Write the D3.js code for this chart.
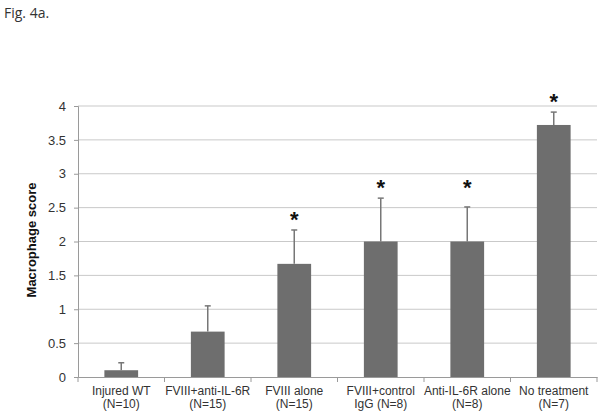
<!DOCTYPE html>
<html><head><meta charset="utf-8">
<script src="https://cdn.jsdelivr.net/npm/d3@7"></script>
<style>body{margin:0;background:#fff}</style>
</head><body>
<svg id="c" width="603" height="416"></svg>
<script>
const categories = [["Injured WT","(N=10)"],["FVIII+anti-IL-6R","(N=15)"],["FVIII alone","(N=15)"],["FVIII+control","IgG (N=8)"],["Anti-IL-6R alone","(N=8)"],["No treatment","(N=7)"]];
const values = [0.1, 0.67, 1.67, 2.0, 2.0, 3.72];
const errors = [0.11, 0.38, 0.5, 0.64, 0.51, 0.19];
const significant = [false, false, true, true, true, true];
const starLevels = [null, null, 2.39, 2.86, 2.86, 4.13];
const yTicks = [0,0.5,1,1.5,2,2.5,3,3.5,4];

(function(){
const svg = d3.select("#c");
const mLeft = 78, mRight = 597, mTop = 106, mBottom = 377;
const x = d3.scaleBand().domain(d3.range(categories.length)).range([mLeft,mRight]).padding(0);
const y = d3.scaleLinear().domain([0,4]).range([mBottom,mTop]);
const font = "'Liberation Sans', Arial, sans-serif";

svg.append("text").attr("x",4).attr("y",18).text("Fig. 4a.")
  .attr("font-family","'Open Sans', 'Liberation Sans', sans-serif").attr("font-size",14).attr("fill","#333");

// gridlines
svg.append("g").selectAll("line").data(yTicks.filter(d=>d>0)).join("line")
  .attr("x1",mLeft).attr("x2",mRight).attr("y1",d=>y(d)).attr("y2",d=>y(d))
  .attr("stroke","#c9c9c9").attr("stroke-width",1);

// y axis
const ya = svg.append("g").attr("transform",`translate(${mLeft},0)`)
  .call(d3.axisLeft(y).tickValues(yTicks).tickSize(4).tickPadding(8).tickFormat(d=>d));
ya.select(".domain").attr("stroke","#9a9a9a");
ya.selectAll(".tick line").attr("stroke","#9a9a9a");
ya.selectAll("text").attr("font-family",font).attr("font-size",13).attr("fill","#333");

// x axis
const xa = svg.append("g").attr("transform",`translate(0,${mBottom})`)
  .call(d3.axisBottom(x).tickSize(0).tickFormat(""));
xa.select(".domain").attr("stroke","#9a9a9a");
xa.selectAll(".tick").remove();
svg.append("g").selectAll("line").data(d3.range(categories.length+1)).join("line")
  .attr("x1",i=>mLeft+i*x.step()).attr("x2",i=>mLeft+i*x.step())
  .attr("y1",mBottom).attr("y2",mBottom+5).attr("stroke","#9a9a9a");

const lab = svg.append("g").selectAll("text").data(categories).join("text")
  .attr("x",(d,i)=>x(i)+x.bandwidth()/2).attr("y",395)
  .attr("text-anchor","middle").attr("font-family",font).attr("font-size",12).attr("fill","#333");
lab.each(function(d){
  const t=d3.select(this);
  t.append("tspan").attr("x",t.attr("x")).attr("dy",0).text(d[0]);
  t.append("tspan").attr("x",t.attr("x")).attr("dy",13).text(d[1]);
});

const bw = x.bandwidth()*0.39;
const cx = i => x(i)+x.bandwidth()/2;

// error bars
const eb = svg.append("g");
eb.selectAll("line.v").data(values).join("line").attr("class","v")
  .attr("x1",(d,i)=>cx(i)).attr("x2",(d,i)=>cx(i))
  .attr("y1",d=>y(d)).attr("y2",(d,i)=>y(d+errors[i])).attr("stroke","#777").attr("stroke-width",1.5);
eb.selectAll("line.c").data(values).join("line").attr("class","c")
  .attr("x1",(d,i)=>cx(i)-3).attr("x2",(d,i)=>cx(i)+3)
  .attr("y1",(d,i)=>y(d+errors[i])).attr("y2",(d,i)=>y(d+errors[i])).attr("stroke","#777").attr("stroke-width",1.5);

// bars
svg.append("g").selectAll("rect").data(values).join("rect")
  .attr("x",(d,i)=>cx(i)-bw/2).attr("width",bw)
  .attr("y",d=>y(d)).attr("height",d=>mBottom-y(d)).attr("fill","#6e6e6e");

// stars
svg.append("g").selectAll("text").data(values.map((v,i)=>({v,i})).filter(d=>significant[d.i])).join("text")
  .attr("x",d=>cx(d.i)).attr("y",d=>y(starLevels[d.i])+12)
  .attr("text-anchor","middle").attr("font-family",font).attr("font-size",22).attr("font-weight","bold").attr("fill","#111")
  .text("*");

// y title
svg.append("text").attr("transform","translate(36,240) rotate(-90)")
  .attr("text-anchor","middle").attr("font-family",font).attr("font-size",13).attr("font-weight","bold").attr("fill","#111")
  .text("Macrophage score");
})();
</script>
</body></html>
